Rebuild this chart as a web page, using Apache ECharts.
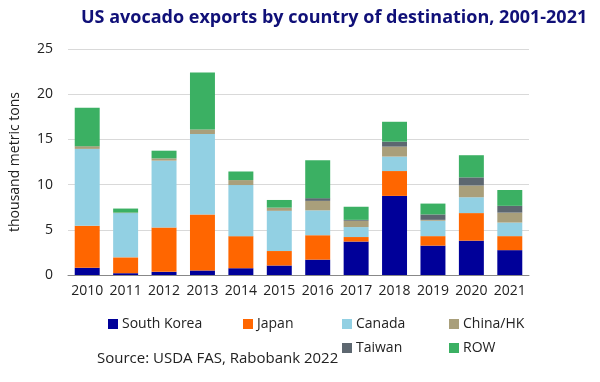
<!DOCTYPE html>
<html><head><meta charset="utf-8">
<script src="https://cdn.jsdelivr.net/npm/echarts@6/dist/echarts.min.js"></script>
<style>html,body{margin:0;padding:0;background:#fff}#c{width:600px;height:382px}</style>
</head><body><div id="c"></div>
<script>
const years = ['2010','2011','2012','2013','2014','2015','2016','2017','2018','2019','2020','2021'];
const southKorea = [0.8, 0.2, 0.35, 0.5, 0.75, 1.05, 1.7, 3.7, 8.75, 3.25, 3.8, 2.75];
const japan      = [4.65, 1.75, 4.9, 6.2, 3.55, 1.6, 2.7, 0.5, 2.75, 1.05, 3.05, 1.55];
const canada     = [8.5, 4.9, 7.4, 8.9, 5.65, 4.45, 2.75, 1.1, 1.6, 1.7, 1.75, 1.5];
const chinaHK    = [0.3, 0.05, 0.25, 0.5, 0.55, 0.35, 1.05, 0.7, 1.1, 0.1, 1.3, 1.1];
const taiwan     = [0, 0, 0, 0, 0, 0, 0.3, 0.1, 0.55, 0.6, 0.9, 0.75];
const row        = [4.25, 0.45, 0.85, 6.3, 0.95, 0.85, 4.2, 1.45, 2.2, 1.2, 2.45, 1.75];
const yTicks = [0, 5, 10, 15, 20, 25];

const names = ['South Korea','Japan','Canada','China/HK','Taiwan','ROW'];
const colors = ['#000099','#ff6600','#92d0e3','#a99f7b','#5d6770','#3bb063'];
const values = [southKorea, japan, canada, chinaHK, taiwan, row];
const font = 'Open Sans, Noto Sans, sans-serif';

const legendPos = [[108,317],[243,317],[342,317],[449,317],[342,341],[449,341]];
const legends = names.map((n,i)=>({
  data:[n], left:legendPos[i][0], top:legendPos[i][1], itemWidth:10, itemHeight:10, itemGap:4,
  icon:'rect', padding:0,
  textStyle:{fontFamily:font, fontSize:14, color:'#222', padding:[0,0,0,-1]}
}));

const chart = echarts.init(document.getElementById('c'));
chart.setOption({
  animation:false,
  title:{text:'US avocado exports by country of destination, 2001-2021', left:76, top:4,
    textStyle:{fontFamily:font, fontSize:18, fontWeight:'bold', color:'#101078'}},
  legend: legends,
  grid:{left:67, right:71, top:49, bottom:107},
  xAxis:{type:'category', data:years,
    axisLine:{lineStyle:{color:'#888',width:1}}, axisTick:{show:false},
    axisLabel:{fontFamily:font, fontSize:14, color:'#222', margin:9, interval:0}},
  yAxis:{type:'value', min:0, max:25, interval:5,
    name:'thousand metric tons', nameLocation:'middle', nameGap:46,
    nameTextStyle:{fontFamily:font, fontSize:14, color:'#222'},
    axisLabel:{fontFamily:font, fontSize:14, color:'#222', margin:15,
      formatter:v=>yTicks.includes(v)?String(v):''},
    splitLine:{lineStyle:{color:'#d9d9d9', width:1}}},
  graphic:[{type:'text', left:97, top:351,
    style:{text:'Source: USDA FAS, Rabobank 2022', fontFamily:font, fontSize:15, fill:'#222'}}],
  series: names.map((n,i)=>({
    name:n, type:'bar', stack:'a', data:values[i], barWidth:'65%',
    itemStyle:{color:colors[i]}
  }))
});
</script></body></html>
